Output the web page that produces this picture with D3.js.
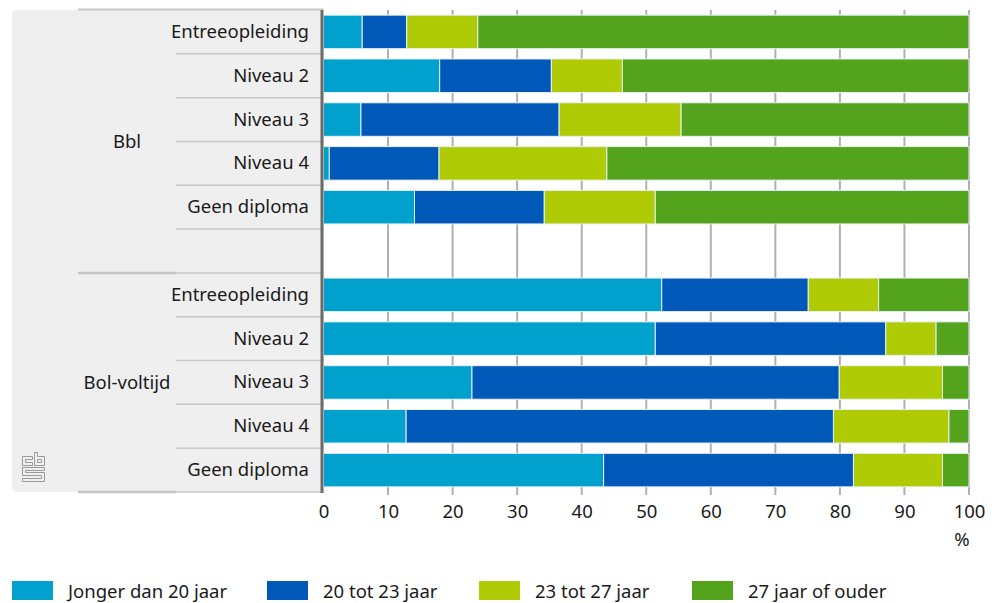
<!DOCTYPE html>
<html>
<head>
<meta charset="utf-8">
<script src="https://cdn.jsdelivr.net/npm/d3@7"></script>
<style>
  html, body { margin: 0; padding: 0; background: #fff; }
  svg { display: block; font-family: "Noto Sans", sans-serif; }
</style>
</head>
<body>
<svg id="chart" width="992" height="603"></svg>
<script>
// ---- data ----
const groups = ["Bbl", "Bol-voltijd"];
const levels = ["Entreeopleiding", "Niveau 2", "Niveau 3", "Niveau 4", "Geen diploma"];
const seriesNames = ["Jonger dan 20 jaar", "20 tot 23 jaar", "23 tot 27 jaar", "27 jaar of ouder"];
const seriesColors = ["#00a1cd", "#0058b8", "#afcb05", "#53a31d"];
const bblJonger20 = [6.0, 18.0, 5.8, 0.9, 14.1];
const bbl20tot23 = [6.9, 17.3, 30.7, 17.0, 20.1];
const bbl23tot27 = [11.0, 11.0, 18.9, 26.0, 17.2];
const bbl27plus = [76.1, 53.7, 44.6, 56.1, 48.6];
const bolJonger20 = [52.4, 51.4, 23.0, 12.8, 43.4];
const bol20tot23 = [22.7, 35.7, 56.9, 66.2, 38.7];
const bol23tot27 = [10.9, 7.8, 16.0, 17.9, 13.8];
const bol27plus = [14.0, 5.1, 4.1, 3.1, 4.1];
const xTicks = [0, 10, 20, 30, 40, 50, 60, 70, 80, 90, 100];
const unitLabel = "%";

// ---- build rows ----
const rows = [];
const seriesByGroup = [
  [bblJonger20, bbl20tot23, bbl23tot27, bbl27plus],
  [bolJonger20, bol20tot23, bol23tot27, bol27plus]
];
groups.forEach((g, gi) => {
  levels.forEach((l, li) => {
    const r = { key: g + "|" + l, group: g, level: l, blank: false };
    seriesNames.forEach((s, si) => { r[s] = seriesByGroup[gi][si][li]; });
    rows.push(r);
  });
  if (gi < groups.length - 1) {
    const r = { key: g + "|blank", group: g, level: "", blank: true };
    seriesNames.forEach(s => r[s] = 0);
    rows.push(r);
  }
});

const svg = d3.select("#chart");
const plotLeft = 323.5, plotRight = 969, plotTop = 10, plotBottom = 492;
const panelLeft = 12, groupLineLeft = 78, rowLineLeft = 176;
const fs = 18.5;
const textColor = "#1a1a1a";

const x = d3.scaleLinear().domain([0, 100]).range([plotLeft, plotRight]);
const y = d3.scaleBand().domain(rows.map(r => r.key)).range([plotTop, plotBottom]).paddingInner(0.235).paddingOuter(0.1175);
const step = y.step();
const color = d3.scaleOrdinal().domain(seriesNames).range(seriesColors);

// ---- left panel ----
svg.append("path")
  .attr("d", `M${panelLeft + 5},${plotTop} H${plotLeft} V${plotBottom} H${panelLeft + 5} Q${panelLeft},${plotBottom} ${panelLeft},${plotBottom - 5} V${plotTop + 5} Q${panelLeft},${plotTop} ${panelLeft + 5},${plotTop} Z`)
  .attr("fill", "#efefef");

// top line
svg.append("line").attr("x1", groupLineLeft).attr("x2", plotLeft).attr("y1", plotTop - 0.5).attr("y2", plotTop - 0.5)
  .attr("stroke", "#c8c8c8").attr("stroke-width", 2);

// row separators
rows.forEach((r, i) => {
  const yy = plotTop + step * (i + 1);
  svg.append("line").attr("x1", rowLineLeft).attr("x2", plotLeft).attr("y1", yy).attr("y2", yy)
    .attr("stroke", "#c8c8c8").attr("stroke-width", 1.5);
});
// group separators
let gEnd = 0;
groups.forEach((g, gi) => {
  const n = rows.filter(r => r.group === g).length;
  const y0 = plotTop + step * gEnd;
  gEnd += n;
  const y1 = plotTop + step * gEnd;
  svg.append("line").attr("x1", groupLineLeft).attr("x2", rowLineLeft).attr("y1", y1).attr("y2", y1)
    .attr("stroke", "#c4c4c4").attr("stroke-width", 2.5);
  svg.append("text").attr("x", (groupLineLeft + rowLineLeft) / 2).attr("y", (y0 + y1) / 2 - 1)
    .attr("text-anchor", "middle").attr("dominant-baseline", "central")
    .attr("font-size", fs).attr("fill", textColor).text(g);
});

// row labels
svg.append("g").selectAll("text").data(rows.filter(r => !r.blank)).join("text")
  .attr("x", 309).attr("y", d => y(d.key) + y.bandwidth() / 2 - 1.5)
  .attr("text-anchor", "end").attr("dominant-baseline", "central")
  .attr("font-size", fs).attr("fill", textColor).text(d => d.level);

// ---- gridlines ----
svg.append("g").selectAll("line").data(xTicks.filter(t => t > 0)).join("line")
  .attr("x1", d => x(d)).attr("x2", d => x(d)).attr("y1", plotTop).attr("y2", plotBottom + 3)
  .attr("stroke", "#b0b0b0").attr("stroke-width", 2);

// ---- bars ----
const stack = d3.stack().keys(seriesNames);
const stacked = stack(rows.filter(r => !r.blank));
svg.append("g").selectAll("g").data(stacked).join("g")
  .attr("fill", d => color(d.key))
  .selectAll("rect").data(d => d).join("rect")
  .attr("x", d => x(d[0])).attr("width", d => x(d[1]) - x(d[0]))
  .attr("y", d => y(d.data.key)).attr("height", y.bandwidth())
  .attr("stroke", "#e8f0f4").attr("stroke-width", 1);

// axis line
svg.append("line").attr("x1", plotLeft - 1.5).attr("x2", plotLeft - 1.5).attr("y1", plotTop).attr("y2", plotBottom + 1)
  .attr("stroke", "#6b6b6b").attr("stroke-width", 3);

// ---- x axis labels ----
const xAxis = d3.axisBottom(x).tickValues(xTicks).tickSize(0).tickPadding(0).tickFormat(d3.format("d"));
const ax = svg.append("g").attr("transform", `translate(0,${plotBottom})`).call(xAxis);
ax.select(".domain").remove();
ax.selectAll("text").attr("font-size", fs).attr("fill", textColor).attr("font-family", "Noto Sans, sans-serif")
  .attr("dy", null).attr("y", 25.5);
svg.append("text").attr("x", 962).attr("y", 546).attr("text-anchor", "middle")
  .attr("font-size", fs).attr("fill", textColor).text(unitLabel);

// ---- CBS logo (simplified outline) ----
const logo = svg.append("g").attr("transform", "translate(22.5,452.5)").attr("fill", "none").attr("stroke", "#9a9a9a").attr("stroke-width", 1);
// c
logo.append("path").attr("d", "M10,4 H0 V13 H10 V10 H3 V7 H10 Z");
// b
logo.append("path").attr("d", "M12,0 H15 V4 H22 V13 H12 Z M15,7 H19 V10 H15 Z");
// S
logo.append("path").attr("d", "M0,15 H22 V18 H3 V20 H22 V29 H0 V26 H19 V23 H0 Z");

// ---- legend ----
const legendX = [12, 267, 479, 692];
const lg = svg.append("g").selectAll("g").data(seriesNames).join("g")
  .attr("transform", (d, i) => `translate(${legendX[i]},581)`);
lg.append("rect").attr("width", 41).attr("height", 19).attr("fill", d => color(d));
lg.append("text").attr("x", 56).attr("y", 9.5).attr("dominant-baseline", "central")
  .attr("font-size", fs).attr("fill", textColor).text(d => d);
</script>
</body>
</html>
